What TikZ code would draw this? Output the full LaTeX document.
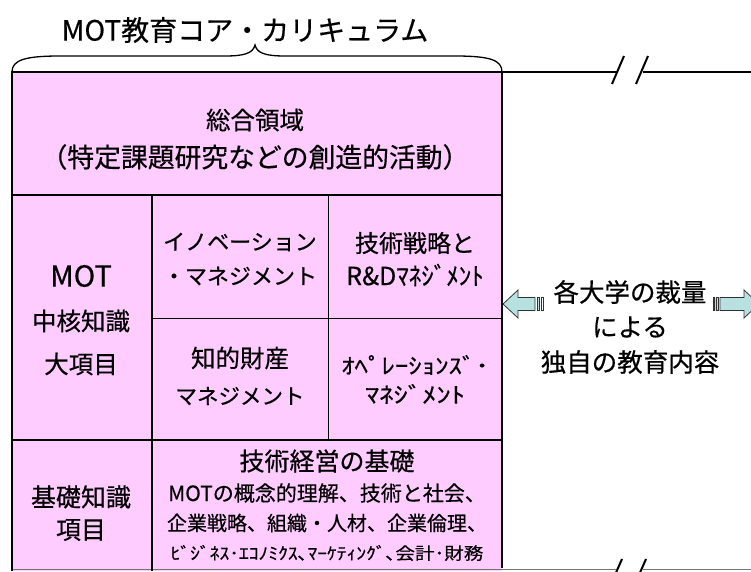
\documentclass[tikz,border=0pt]{standalone}
\usepackage{graphicx}
\usepackage{fontspec}
\setmainfont{Noto Sans CJK JP}[FakeBold=0.5]
\newcommand{\fsz}[1]{\fontsize{#1}{#1}\selectfont}
\begin{document}
\begin{tikzpicture}[x=1pt,y=-1pt,
  thickline/.style={line width=2.4pt,black},
  thinline/.style={line width=0.9pt,black},
  txt/.style={inner sep=0pt,anchor=center,text=black},
  blockarrow/.style={fill=arrowfill,draw=black!80,line width=0.8pt,line join=miter}]
\definecolor{pinkfill}{HTML}{FFCCFF}
\definecolor{arrowfill}{HTML}{B7E1E1}
\useasboundingbox (0,0) rectangle (751,571);
% pink area
\fill[pinkfill] (12,72) rectangle (502,571);
% brace
\draw[line width=1.3pt] (12,72) .. controls (12,60) and (25,56) .. (60,56) -- (225,56)
  .. controls (245,56) and (253,53) .. (255,45) .. controls (257,53) and (265,56) .. (285,56)
  -- (455,56) .. controls (490,56) and (502,60) .. (502,72);
\node[txt,font=\fsz{28}] (title) at (245,30) {MOT教育コア・カリキュラム};
% outer lines with breaks
\draw[line width=1.5pt] (502,72) -- (618,72);
\draw[line width=1.5pt] (643,72) -- (751,72);
\draw[line width=2pt] (612,84) -- (624,56);
\draw[line width=2pt] (636,84) -- (648,56);
\draw[line width=1.3pt,black!55] (12,569.5) -- (618,569.5);
\draw[line width=1.3pt,black!55] (643,569.5) -- (751,569.5);
\draw[line width=2pt] (611,584) -- (622,559);
\draw[line width=2pt] (635,584) -- (646,559);
% grid
\draw[thickline] (12,71) -- (12,571);
\draw[thickline] (502,71) -- (502,568);
\draw[thickline] (12,72) -- (502,72);
\draw[thickline] (12,195) -- (502,195);
\draw[thickline] (12,440) -- (502,440);
\draw[thickline] (152,195) -- (152,571);
\draw[thinline] (328,195) -- (328,440);
\draw[thinline] (152,318) -- (502,318);
% texts
\node[txt,font=\fsz{24.5}] (sogo) at (255,120) {総合領域};
\node[txt,font=\fsz{26.8}] (sogo2) at (255,157) {（特定課題研究などの創造的活動）};
\node[txt,font=\fsz{29}] (mot) at (81,276) {MOT};
\node[txt,font=\fsz{24.5}] (chukaku) at (81,321) {中核知識};
\node[txt,font=\fsz{24.5}] (daikoumoku) at (81,364) {大項目};
\node[txt,font=\fsz{22}] (inno1) at (240,242) {イノベーション};
\node[txt,font=\fsz{22}] (inno2) at (240,276) {・マネジメント};
\node[txt,font=\fsz{24}] (gijutsu1) at (415,243) {技術戦略と};
\node[txt,font=\fsz{25}] (gijutsu2) at (415,275) {R\&Dﾏﾈｼﾞﾒﾝﾄ};
\node[txt,font=\fsz{24.5}] (chiteki1) at (240,358) {知的財産};
\node[txt,font=\fsz{21.5}] (chiteki2) at (240,396) {マネジメント};
\node[txt,font=\fsz{22}] (ope1) at (415,365) {\scalebox{1.22}[1]{ｵﾍﾟﾚｰｼｮﾝｽﾞ･}};
\node[txt,font=\fsz{22}] (ope2) at (415,394) {\scalebox{1.3}[1]{ﾏﾈｼﾞﾒﾝﾄ}};
\node[txt,font=\fsz{25}] (kiso1) at (81,497) {基礎知識};
\node[txt,font=\fsz{25}] (kiso2) at (81,530) {項目};
\node[txt,font=\fsz{25}] (keiei) at (327,461) {技術経営の基礎};
\node[txt,font=\fsz{21}] (keiei2) at (327,493) {MOTの概念的理解、技術と社会、};
\node[txt,font=\fsz{20}] (keiei3) at (327,523) {企業戦略、組織・人材、企業倫理、};
\node[txt,font=\fsz{17}] (keiei4) at (327,553) {\scalebox{1.15}[1]{ﾋﾞｼﾞﾈｽ･ｴｺﾉﾐｸｽ､ﾏｰｹﾃｨﾝｸﾞ､会計･財務}};
\node[txt,font=\fsz{25.5}] (kaku1) at (630,292) {各大学の裁量};
\node[txt,font=\fsz{25.5}] (kaku2) at (630,327) {による};
\node[txt,font=\fsz{25.5}] (kaku3) at (630,362) {独自の教育内容};
% block arrows
\draw[blockarrow] (503,304) -- (518,290) -- (518,297.5) -- (535,297.5) -- (535,310.5) -- (518,310.5) -- (518,318) -- cycle;
\fill[arrowfill] (537,297.5) rectangle (539.5,310.5);
\draw[black!80,line width=0.8pt] (537,297.5) rectangle (539.5,310.5);
\draw[black!80,line width=0.8pt] (541.5,297.5) rectangle (543,310.5);
\draw[blockarrow] (720,297.5) -- (744,297.5) -- (744,290) -- (759,304) -- (744,318) -- (744,310.5) -- (720,310.5) -- cycle;
\fill[arrowfill] (714.5,297.5) rectangle (718,310.5);
\draw[black!80,line width=0.8pt] (716,297.5) rectangle (718,310.5);
\draw[black!80,line width=0.8pt] (713,297.5) rectangle (714.2,310.5);
\end{tikzpicture}
\end{document}
